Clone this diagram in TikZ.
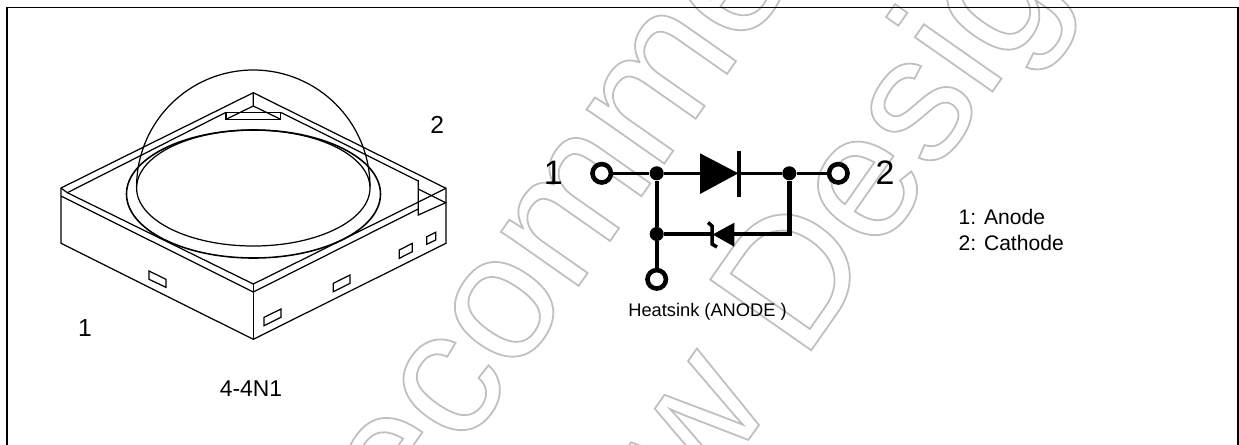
\documentclass[tikz,border=0pt]{standalone}
\usepackage{fontspec}
\setmainfont{Liberation Sans}
\usetikzlibrary{positioning}

% hollow grey letters for the stamp across the sheet
\newcommand{\stampfont}{\fontsize{102}{102}\selectfont}
\newcommand{\hollow}[1]{\special{pdf:code q 1 Tr 1 w 0.75 G}#1\special{pdf:code Q}}

\tikzset{
  outline/.style={line width=0.7pt,line join=miter},
  ring/.style={line width=0.9pt},
  wire/.style={line width=2.5pt},
  topwire/.style={line width=2pt},
  thinwire/.style={line width=1.5pt},
  terminal/.style={circle,draw,fill=white,line width=2.6pt,minimum size=10.5pt,inner sep=0pt},
  junction/.style={circle,fill=black,minimum size=8pt,inner sep=0pt},
  stamp/.style={anchor=base west,rotate=55,inner sep=0pt,font=\stampfont},
  pin/.style={inner sep=0pt,font=\fontsize{14}{14}\selectfont},
  bigpin/.style={inner sep=0pt,font=\fontsize{19.3}{19.3}\selectfont},
  legend/.style={anchor=west,inner sep=0pt,font=\fontsize{12}{12}\selectfont},
}

\begin{document}
\begin{tikzpicture}[x=0.02cm,y=-0.02cm]
  \useasboundingbox (0,0) rectangle (1239,444);
  \clip (0,0) rectangle (1239,444);

  % stamp
  \node[stamp] (stampa) at (143,908) {\hollow{Not Recommended}};
  \node[stamp] (stampb) at (420,909) {\hollow{for New Design}};

  % frame
  \draw[line width=1.1pt] (7,460) -- (7,7.5) -- (1238,7.5) -- (1238,460);

  % package
  \begin{scope}[outline]
    \draw (61,196) -- (61,243.3) -- (253.3,339.3) -- (446,243.3) -- (446,188.3)
      -- (253.3,92.7) -- (61,188) -- (61,196) -- (253.3,292) -- (418.3,209);
    \draw (61,188) -- (67.3,192.7) -- (226,112.3);
    \draw (67.3,192.7) -- (253.3,284) -- (446,188.3);
    \draw (253.3,284) -- (253.3,339.3);
    \draw (253.3,92.7) -- (253.3,106) -- (226,119.3);
    \draw (253.3,106) -- (280.7,119.3);
    \draw (226,112.3) rectangle (280.7,119.3);
    \draw (280.7,112.3) -- (418.3,181);
    \draw (418.3,180) -- (418.3,215) -- (445.7,202.7) -- (418.3,189);
    % lead windows
    \draw (149,271) -- (166,279.3) -- (166,287.3) -- (149,279.3) -- cycle;
    \draw (264,317.3) -- (281,309) -- (281,317.3) -- (264,325.7) -- cycle;
    \draw (333.3,283.3) -- (350,275) -- (350,283.3) -- (333.3,291.7) -- cycle;
    \draw (399.3,250) -- (412.3,243.3) -- (412.3,251.7) -- (399.3,258.3) -- cycle;
    \draw (426.7,236.7) -- (435.7,232.3) -- (435.7,240) -- (426.7,244.3) -- cycle;
    % lens
    \draw (136.6,186.7) arc [start angle=180,end angle=360,radius=116.7];
    \draw (253.3,188) ellipse [x radius=116.7,y radius=58];
    \draw[ring] (253.5,194) ellipse [x radius=127,y radius=64];
  \end{scope}

  \node[pin] (pintwo) at (437.3,125) {2};
  \node[pin] (pinone) at (85,328) {1};
  \node[inner sep=0pt,font=\fontsize{13}{13}\selectfont] (partno) at (251,389) {4-4N1};

  % circuit
  \node[terminal] (anode) at (601.7,173.3) {};
  \node[terminal] (cathode) at (838.3,173.3) {};
  \node[terminal] (sink) at (656.7,279.3) {};
  \node[junction] (ja) at (656.7,173.3) {};
  \node[junction] (jb) at (789.3,173.3) {};
  \node[junction] (jc) at (656.7,234) {};
  \coordinate (dleft) at (700,173.3);
  \coordinate (dright) at (738.3,173.3);
  \coordinate (zleft) at (712.7,234);
  \coordinate (zright) at (734.3,234);
  \coordinate (corner) at (789.3,234);

  \draw[topwire] (anode) -- (ja);
  \draw[topwire] (ja) -- (dleft);
  \draw[topwire] (dright) -- (jb);
  \draw[thinwire] (jb) -- (cathode);
  \draw[wire] (ja) -- (jc);
  \draw[wire] (jc) -- (sink);
  \draw[wire] (jc) -- (zleft);
  \draw[wire,line join=miter] (zright) -- (corner) -- (jb);

  \fill (700,153.3) -- (738.3,173.3) -- (700,194) -- cycle;
  \draw[line width=2.7pt] (738.9,150.7) -- (738.9,196.7);
  \fill (734.3,222.7) -- (712.7,234.5) -- (734.3,246.7) -- cycle;
  \draw[line width=2pt] (708,222.5) -- (712,226) -- (712,244) -- (717,247);

  \node[bigpin] (labelone) at (553.3,173) {1};
  \node[bigpin] (labeltwo) at (885,173) {2};
  \node[inner sep=0pt,font=\fontsize{10.4}{10.4}\selectfont] (sinklabel) at (707.5,311.7) {Heatsink (ANODE )};
  \node[legend] (legendone) at (958.3,216.7) {1: Anode};
  \node[legend] (legendtwo) at (958.3,243.3) {2: Cathode};
\end{tikzpicture}
\end{document}
